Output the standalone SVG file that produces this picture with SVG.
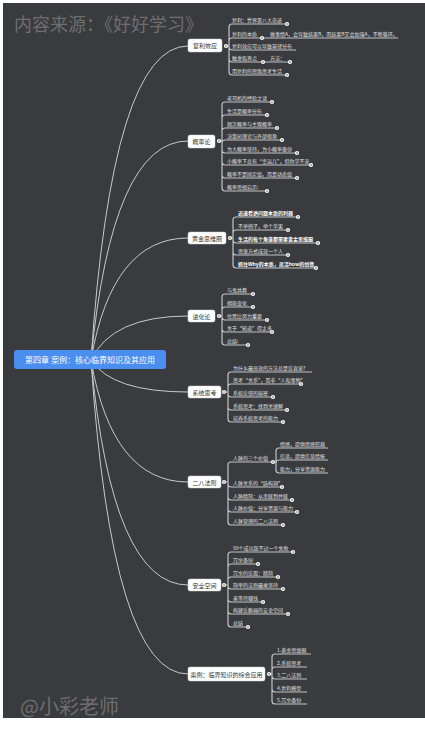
<svg xmlns="http://www.w3.org/2000/svg" width="425" height="731" viewBox="0 0 425 731">
<style>
.bg{fill:#393b3f}
.wm{fill:#6e6e6e;font-family:"Noto Sans CJK SC","Noto Sans",sans-serif}
.con{fill:none;stroke:#c9c9c9;stroke-width:1}
.ln{fill:none;stroke:#c4c4c4;stroke-width:1.2}
.box{fill:#ffffff;stroke:#d0d0d0;stroke-width:0.5}
.bt{fill:#333333;font-family:"Noto Sans CJK SC","Noto Sans",sans-serif;font-size:6px;text-anchor:middle}
.it{fill:#e2e2e2;font-family:"Noto Sans CJK SC","Noto Sans",sans-serif;font-size:5px}
.b{font-weight:bold;fill:#ffffff}
.dot{fill:#ffffff}
.dc{fill:#555555}
</style>
<defs>
<g id="d"><circle class="dot" r="2.1"/><circle class="dc" r="0.8"/></g>
</defs>
<rect x="0" y="0" width="425" height="731" fill="#ffffff"/>
<rect class="bg" x="3" y="3" width="422" height="715"/>
<text class="wm" x="14" y="31" font-size="18">内容来源：《好好学习》</text>
<text class="wm" x="20" y="714" font-size="20">@小彩老师</text>

<g id="connectors">
<path class="con" d="M91,360 Q112,46 188,46"/>
<path class="con" d="M91,360 Q112,141 188,141"/>
<path class="con" d="M91,360 Q112,238 188,238"/>
<path class="con" d="M91,360 Q112,316 188,316"/>
<path class="con" d="M91,360 Q112,392 188,392"/>
<path class="con" d="M91,360 Q112,482 188,482"/>
<path class="con" d="M91,360 Q112,585 188,585"/>
<path class="con" d="M91,360 Q112,674 188,674"/>
</g>

<g id="center">
<rect x="14" y="350" width="152" height="19" rx="3" fill="#4a8ff0"/>
<text x="90" y="362.5" fill="#ffffff" font-family="Noto Sans CJK SC, Noto Sans, sans-serif" font-size="8" text-anchor="middle">第四章 案例：核心临界知识及其应用</text>
</g>

<g id="b1">
<path class="ln" d="M226,46 H229 M229,46 V27 Q229,24 232,24 H287 M229,46 V41 Q229,38 232,38 H398 M229,46 V47 Q229,50 232,50 H296 M229,46 V59 Q229,62 232,62 H290 M229,46 V72 Q229,75 232,75 H287"/>
<rect class="box" x="188" y="39" width="34" height="13" rx="2"/>
<text class="bt" x="205" y="48">复利效应</text>
<use href="#d" x="226" y="46"/>
<text class="it" x="232" y="22">复利：世界第八大奇迹</text>
<use href="#d" x="287" y="24"/>
<text class="it" x="232" y="36">复利的本质</text>
<use href="#d" x="262" y="38"/>
<text class="it" x="270" y="36">做事情A，会导致结果B，而结果B又会加强A，不断循环。</text>
<text class="it" x="232" y="48">复利效应可以导致幂律分布</text>
<text class="it" x="232" y="60">触发临界点</text>
<use href="#d" x="263" y="62"/>
<text class="it" x="270" y="60">方法：</text>
<use href="#d" x="290" y="62"/>
<text class="it" x="232" y="73">用复利的思路思考生活</text>
<use href="#d" x="287" y="75"/>
</g>

<g id="b2">
<path class="ln" d="M219,141 H222 M222,141 V105 Q222,102 225,102 H272 M222,141 V118 Q222,115 225,115 H267 M222,141 V131 Q222,128 225,128 H277 M222,141 V143 Q222,140 225,140 H282 M222,141 V150 Q222,153 225,153 H297 M222,141 V162 Q222,165 225,165 H311 M222,141 V175 Q222,178 225,178 H297 M222,141 V188 Q222,191 225,191 H267"/>
<rect class="box" x="188" y="135" width="27" height="13" rx="2"/>
<text class="bt" x="201.5" y="144">概率论</text>
<use href="#d" x="219" y="141"/>
<text class="it" x="227" y="100">老司机的经验之谈</text><use href="#d" x="272" y="102"/>
<text class="it" x="227" y="113">生活是概率分布</text><use href="#d" x="267" y="115"/>
<text class="it" x="227" y="126">频次概率与主观概率</text><use href="#d" x="277" y="128"/>
<text class="it" x="227" y="138">决策树理论与外部视角</text><use href="#d" x="282" y="140"/>
<text class="it" x="227" y="151">为大概率坚持，为小概率备份</text><use href="#d" x="297" y="153"/>
<text class="it" x="227" y="163">小概率下总有“幸运儿”，但你学不来</text><use href="#d" x="311" y="165"/>
<text class="it" x="227" y="176">概率不是固定值，而是动态值</text><use href="#d" x="297" y="178"/>
<text class="it" x="227" y="189">概率思想启示:</text><use href="#d" x="267" y="191"/>
</g>

<g id="b3">
<path class="ln" d="M230,238 H233 M233,238 V220 Q233,217 236,217 H298 M233,238 V233 Q233,230 236,230 H288 M233,238 V240 Q233,243 236,243 H318 M233,238 V252 Q233,255 236,255 H288 M233,238 V265 Q233,268 236,268 H316"/>
<rect class="box" x="188" y="232" width="38" height="12" rx="2"/>
<text class="bt" x="207" y="240.5">黄金思维圈</text>
<use href="#d" x="230" y="238"/>
<text class="it b" x="238" y="215">迅速看透问题本质的利器</text><use href="#d" x="298" y="217"/>
<text class="it" x="238" y="228">不举例子，举个苹果</text><use href="#d" x="288" y="230"/>
<text class="it b" x="238" y="241">生活的每个角落都需要黄金思维圈</text><use href="#d" x="318" y="243"/>
<text class="it" x="238" y="253">思维方式成就一个人</text><use href="#d" x="288" y="255"/>
<text class="it b" x="238" y="266">抓住Why的本质，灵活how的创意</text><use href="#d" x="316" y="268"/>
</g>

<g id="b4">
<path class="ln" d="M219,316 H222 M222,316 V297 Q222,294 225,294 H253 M222,316 V310 Q222,307 225,307 H253 M222,316 V317 Q222,320 225,320 H267 M222,316 V329 Q222,332 225,332 H272 M222,316 V342 Q222,345 225,345 H248"/>
<rect class="box" x="188" y="310" width="27" height="12" rx="2"/>
<text class="bt" x="201.5" y="318.5">进化论</text>
<use href="#d" x="219" y="316"/>
<text class="it" x="227" y="292">与鬼共舞</text><use href="#d" x="253" y="294"/>
<text class="it" x="227" y="305">拥抱变化</text><use href="#d" x="253" y="307"/>
<text class="it" x="227" y="318">位置比努力重要</text><use href="#d" x="267" y="320"/>
<text class="it" x="227" y="330">关于“知道”得太多</text><use href="#d" x="272" y="332"/>
<text class="it" x="227" y="343">总结:</text><use href="#d" x="248" y="345"/>
</g>

<g id="b5">
<path class="ln" d="M224,392 H228 M228,392 V375 Q228,372 231,372 H312 M228,392 V387 Q228,384 231,384 H301 M228,392 V394 Q228,397 231,397 H273 M228,392 V407 Q228,410 231,410 H287 M228,392 V419 Q228,422 231,422 H283"/>
<rect class="box" x="188" y="386" width="33" height="12" rx="2"/>
<text class="bt" x="204.5" y="394.5">系统思考</text>
<use href="#d" x="224" y="392"/>
<text class="it" x="233" y="370">为什么最高效的方法总是反直觉?</text>
<text class="it" x="233" y="382">思考“关系”，而非“人和事物”</text><use href="#d" x="301" y="384"/>
<text class="it" x="233" y="395">系统反馈的秘密</text><use href="#d" x="273" y="397"/>
<text class="it" x="233" y="408">系统思考：找到关键解</text><use href="#d" x="287" y="410"/>
<text class="it" x="233" y="420">培养系统思考的能力</text><use href="#d" x="283" y="422"/>
</g>

<g id="b6">
<path class="ln" d="M224,482 H228 M228,482 V465 Q228,462 231,462 H273 M228,482 V484 Q228,487 231,487 H282 M228,482 V497 Q228,500 231,500 H292 M228,482 V509 Q228,512 231,512 H297 M228,482 V522 Q228,525 231,525 H283"/>
<path class="ln" d="M273,462 H276 M276,462 V451 Q276,448 279,448 H328 M276,462 V463 Q276,460 279,460 H328 M276,462 V470 Q276,473 279,473 H328"/>
<rect class="box" x="188" y="476" width="33" height="12" rx="2"/>
<text class="bt" x="204.5" y="484.5">二八法则</text>
<use href="#d" x="224" y="482"/>
<text class="it" x="233" y="460">人脉的三个价值</text><use href="#d" x="273" y="462"/>
<text class="it" x="280" y="446">情感，提供情感慰藉</text>
<text class="it" x="280" y="458">信息，提供信息情报</text>
<text class="it" x="280" y="471">能力，分享资源能力</text>
<text class="it" x="233" y="485">人脉关系的“结构洞”</text><use href="#d" x="282" y="487"/>
<text class="it" x="233" y="498">人脉精简：从串联到并联</text><use href="#d" x="292" y="500"/>
<text class="it" x="233" y="510">人脉价值：分享资源与能力</text><use href="#d" x="297" y="512"/>
<text class="it" x="233" y="523">人脉管理的二八法则</text><use href="#d" x="283" y="525"/>
</g>

<g id="b7">
<path class="ln" d="M224,585 H228 M228,585 V555 Q228,552 231,552 H293 M228,585 V567 Q228,564 231,564 H258 M228,585 V580 Q228,577 231,577 H278 M228,585 V586 Q228,589 231,589 H283 M228,585 V599 Q228,602 231,602 H263 M228,585 V611 Q228,614 231,614 H288 M228,585 V624 Q228,627 231,627 H248"/>
<rect class="box" x="188" y="579" width="33" height="12" rx="2"/>
<text class="bt" x="204.5" y="587.5">安全空间</text>
<use href="#d" x="224" y="585"/>
<text class="it" x="233" y="550">99个成功敌不过一个失败</text><use href="#d" x="293" y="552"/>
<text class="it" x="233" y="562">冗余备份</text><use href="#d" x="258" y="564"/>
<text class="it" x="233" y="575">冗余的反面：精简</text><use href="#d" x="278" y="577"/>
<text class="it" x="233" y="587">简单的法则最难坚持</text><use href="#d" x="283" y="589"/>
<text class="it" x="233" y="600">善等待赚钱</text><use href="#d" x="263" y="602"/>
<text class="it" x="233" y="612">构建反脆弱的安全空间</text><use href="#d" x="288" y="614"/>
<text class="it" x="233" y="625">总结</text><use href="#d" x="248" y="627"/>
</g>

<g id="b8">
<path class="ln" d="M269,674 H272 M272,674 V657 Q272,654 275,654 H311 M272,674 V670 Q272,667 275,667 H307 M272,674 V676 Q272,679 275,679 H307 M272,674 V689 Q272,692 275,692 H307 M272,674 V701 Q272,704 275,704 H307"/>
<rect class="box" x="188" y="667" width="77" height="14" rx="2"/>
<text class="bt" x="226.5" y="676.5">案例：临界知识的综合应用</text>
<use href="#d" x="269" y="674"/>
<text class="it" x="277" y="652">1.黄金思维圈</text>
<text class="it" x="277" y="665">2.系统思考</text>
<text class="it" x="277" y="677">3.二八法则</text>
<text class="it" x="277" y="690">4.复利模型</text>
<text class="it" x="277" y="702">5.冗余备份</text>
</g>
</svg>
